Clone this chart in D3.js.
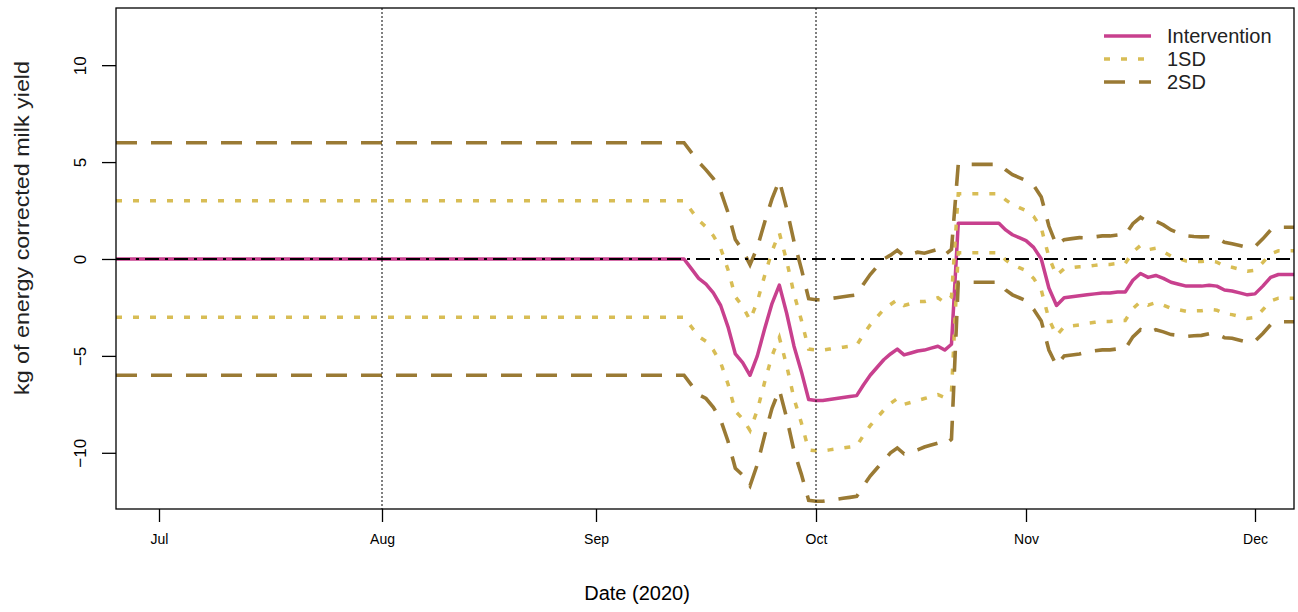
<!DOCTYPE html>
<html>
<head>
<meta charset="utf-8">
<script src="https://cdn.jsdelivr.net/npm/d3@7"></script>
<style>
  html, body { margin: 0; padding: 0; background: #fff; }
  svg { display: block; font-family: "Liberation Sans", Arial, sans-serif; }
</style>
</head>
<body>
<svg id="chart" width="1298" height="612"></svg>
<script>
// Daily deviation of energy corrected milk yield from the expected curve (kg)
const dates = [
  "2020-06-25", "2020-09-13",
  "2020-09-14", "2020-09-15", "2020-09-16", "2020-09-17", "2020-09-18", "2020-09-19",
  "2020-09-20", "2020-09-21", "2020-09-22", "2020-09-23", "2020-09-24", "2020-09-25",
  "2020-09-26", "2020-09-27", "2020-09-28", "2020-09-29", "2020-09-30",
  "2020-10-01", "2020-10-02", "2020-10-03", "2020-10-04", "2020-10-05", "2020-10-06",
  "2020-10-07", "2020-10-08", "2020-10-09", "2020-10-10", "2020-10-11", "2020-10-12",
  "2020-10-13", "2020-10-14", "2020-10-15", "2020-10-16", "2020-10-17", "2020-10-18",
  "2020-10-19", "2020-10-20", "2020-10-21", "2020-10-22", "2020-10-23", "2020-10-24",
  "2020-10-25", "2020-10-26", "2020-10-27", "2020-10-28", "2020-10-29", "2020-10-30",
  "2020-10-31",
  "2020-11-01", "2020-11-02", "2020-11-03", "2020-11-04", "2020-11-05", "2020-11-06",
  "2020-11-07", "2020-11-08", "2020-11-09", "2020-11-10", "2020-11-11", "2020-11-12",
  "2020-11-13", "2020-11-14", "2020-11-15", "2020-11-16", "2020-11-17", "2020-11-18",
  "2020-11-19", "2020-11-20", "2020-11-21", "2020-11-22", "2020-11-23", "2020-11-24",
  "2020-11-25", "2020-11-26", "2020-11-27", "2020-11-28", "2020-11-29", "2020-11-30",
  "2020-12-01", "2020-12-02", "2020-12-03", "2020-12-04", "2020-12-05", "2020-12-06"
];

const intervention = [
  0, 0,
  -0.5, -1.0, -1.3, -1.75, -2.4, -3.5,
  -4.9, -5.35, -6.0, -5.0, -3.6, -2.3,
  -1.35, -2.8, -4.5, -5.8, -7.25,
  -7.3, -7.3, -7.25, -7.2, -7.15, -7.1,
  -7.05, -6.5, -6.0, -5.6, -5.2, -4.9,
  -4.65, -4.95, -4.85, -4.75, -4.7, -4.6,
  -4.5, -4.7, -4.4, 1.84, 1.84, 1.84,
  1.84, 1.84, 1.84, 1.84, 1.5, 1.25,
  1.1,
  0.95, 0.6, 0.0, -1.5, -2.4, -2.0,
  -1.95, -1.9, -1.85, -1.8, -1.75, -1.75,
  -1.7, -1.7, -1.1, -0.75, -0.95, -0.85,
  -1.0, -1.2, -1.3, -1.4, -1.4, -1.4,
  -1.35, -1.4, -1.6, -1.65, -1.75, -1.85,
  -1.8, -1.4, -0.95, -0.8, -0.8, -0.8
];

// Standard deviation of the expected yield on each day
const sd = [
  3.0, 3.0,
  3.0, 3.0, 2.95, 2.95, 2.95, 2.95,
  2.95, 2.9, 2.85, 2.8, 2.75, 2.7,
  2.7, 2.7, 2.7, 2.65, 2.6,
  2.6, 2.6, 2.6, 2.6, 2.6, 2.6,
  2.6, 2.6, 2.6, 2.6, 2.6, 2.55,
  2.55, 2.55, 2.55, 2.55, 2.5, 2.5,
  2.5, 2.45, 2.45, 1.52, 1.52, 1.52,
  1.52, 1.52, 1.52, 1.52, 1.55, 1.55,
  1.55,
  1.55, 1.6, 1.6, 1.6, 1.55, 1.5,
  1.5, 1.5, 1.47, 1.47, 1.47, 1.47,
  1.47, 1.47, 1.46, 1.45, 1.43, 1.4,
  1.38, 1.35, 1.32, 1.3, 1.28, 1.27,
  1.25, 1.24, 1.23, 1.22, 1.22, 1.22,
  1.22, 1.22, 1.22, 1.22, 1.22, 1.22
];

const monthTicks = ["2020-07-01", "2020-08-01", "2020-09-01", "2020-10-01", "2020-11-01", "2020-12-01"];
const monthLabels = ["Jul", "Aug", "Sep", "Oct", "Nov", "Dec"];
const yTicks = [-10, -5, 0, 5, 10];
const markerDates = ["2020-08-01", "2020-10-01"];
const legendLabels = ["Intervention", "1SD", "2SD"];

const parse = d3.utcParse("%Y-%m-%d");

const svg = d3.select("#chart");
const plot = { left: 116, top: 8, right: 1294, bottom: 509 };
const W = plot.right - plot.left;

const colors = { intervention: "#c8408e", sd1: "#d8bd55", sd2: "#9a7a34" };

// Piecewise time axis, anchored at each month start
const x = d3.scaleUtc()
  .domain([parse("2020-06-25"), ...monthTicks.map(parse), parse("2020-12-06")])
  .range([0, 43, 266, 480, 700, 910, 1139, W].map(v => plot.left + v));

const y = d3.scaleLinear().domain([-12.9, 12.95]).range([plot.bottom, plot.top]);

const rows = dates.map((d, i) => ({
  date: parse(d),
  mean: intervention[i],
  up1: intervention[i] + sd[i],
  lo1: intervention[i] - sd[i],
  up2: intervention[i] + 2 * sd[i],
  lo2: intervention[i] - 2 * sd[i]
}));

svg.append("defs").append("clipPath").attr("id", "clip")
  .append("rect")
  .attr("x", plot.left).attr("y", plot.top)
  .attr("width", W).attr("height", plot.bottom - plot.top);

const g = svg.append("g").attr("clip-path", "url(#clip)");

const lineFor = key => d3.line().x(d => x(d.date)).y(d => y(d[key]));

// Intervention curve
g.append("path").datum(rows)
  .attr("d", lineFor("mean"))
  .attr("fill", "none").attr("stroke", colors.intervention)
  .attr("stroke-width", 3.5).attr("stroke-linejoin", "round");

// 1SD band (dotted)
["up1", "lo1"].forEach(k => {
  g.append("path").datum(rows)
    .attr("d", lineFor(k))
    .attr("fill", "none").attr("stroke", colors.sd1)
    .attr("stroke-width", 3.5).attr("stroke-dasharray", "6,11");
});

// 2SD band (dashed)
["up2", "lo2"].forEach(k => {
  g.append("path").datum(rows)
    .attr("d", lineFor(k))
    .attr("fill", "none").attr("stroke", colors.sd2)
    .attr("stroke-width", 3.6).attr("stroke-dasharray", "21,14");
});

// Zero reference line
g.append("line")
  .attr("x1", plot.left).attr("x2", plot.right)
  .attr("y1", y(0)).attr("y2", y(0))
  .attr("stroke", "#000").attr("stroke-width", 2)
  .attr("stroke-dasharray", "14,6,3,6");

// Vertical month markers
markerDates.forEach(d => {
  g.append("line")
    .attr("x1", x(parse(d))).attr("x2", x(parse(d)))
    .attr("y1", plot.top).attr("y2", plot.bottom)
    .attr("stroke", "#000").attr("stroke-width", 1)
    .attr("stroke-dasharray", "2,2");
});

// Frame
svg.append("rect")
  .attr("x", plot.left).attr("y", plot.top)
  .attr("width", W).attr("height", plot.bottom - plot.top)
  .attr("fill", "none").attr("stroke", "#000").attr("stroke-width", 1.3);

// X axis
const xAxis = d3.axisBottom(x)
  .tickValues(monthTicks.map(parse))
  .tickFormat((d, i) => monthLabels[i])
  .tickSize(13).tickPadding(12);
const gx = svg.append("g").attr("transform", `translate(0,${plot.bottom})`).call(xAxis);
gx.select(".domain").remove();
gx.selectAll(".tick line").attr("stroke", "#000").attr("stroke-width", 1.3);
gx.selectAll(".tick text").attr("font-size", 14).attr("fill", "#000")
  .attr("font-family", "'Liberation Sans', Arial, sans-serif");

// Y axis
const yAxis = d3.axisLeft(y).tickValues(yTicks).tickSize(14).tickFormat(d3.format("d"));
const gy = svg.append("g").attr("transform", `translate(${plot.left},0)`).call(yAxis);
gy.select(".domain").remove();
gy.selectAll(".tick line").attr("stroke", "#000").attr("stroke-width", 1.3);
gy.selectAll(".tick text")
  .attr("font-size", 17).attr("fill", "#000")
  .attr("font-family", "'Liberation Sans', Arial, sans-serif")
  .attr("x", null).attr("dy", null)
  .attr("text-anchor", "middle")
  .attr("dominant-baseline", "central")
  .attr("transform", "translate(-36,0) rotate(-90)");

// Axis titles
svg.append("text")
  .attr("x", 637).attr("y", 600)
  .attr("text-anchor", "middle").attr("font-size", 20).attr("fill", "#000")
  .text("Date (2020)");

svg.append("text")
  .attr("transform", "translate(22,228) rotate(-90)")
  .attr("text-anchor", "middle").attr("dominant-baseline", "central")
  .attr("font-size", 20).attr("fill", "#222")
  .attr("textLength", 334).attr("lengthAdjust", "spacingAndGlyphs")
  .text("kg of energy corrected milk yield");

// Legend
const legend = svg.append("g");
const legendStyles = [
  { color: colors.intervention, dash: null, width: 3.5 },
  { color: colors.sd1, dash: "6,11", width: 3.5 },
  { color: colors.sd2, dash: "21,14", width: 3.6 }
];
legendLabels.forEach((label, i) => {
  const ly = 36 + i * 23;
  legend.append("line")
    .attr("x1", 1104).attr("x2", 1151).attr("y1", ly).attr("y2", ly)
    .attr("stroke", legendStyles[i].color).attr("stroke-width", legendStyles[i].width)
    .attr("stroke-dasharray", legendStyles[i].dash);
  legend.append("text")
    .attr("x", 1167).attr("y", ly)
    .attr("dominant-baseline", "central")
    .attr("font-size", 20).attr("fill", "#222")
    .text(label);
});
</script>
</body>
</html>
